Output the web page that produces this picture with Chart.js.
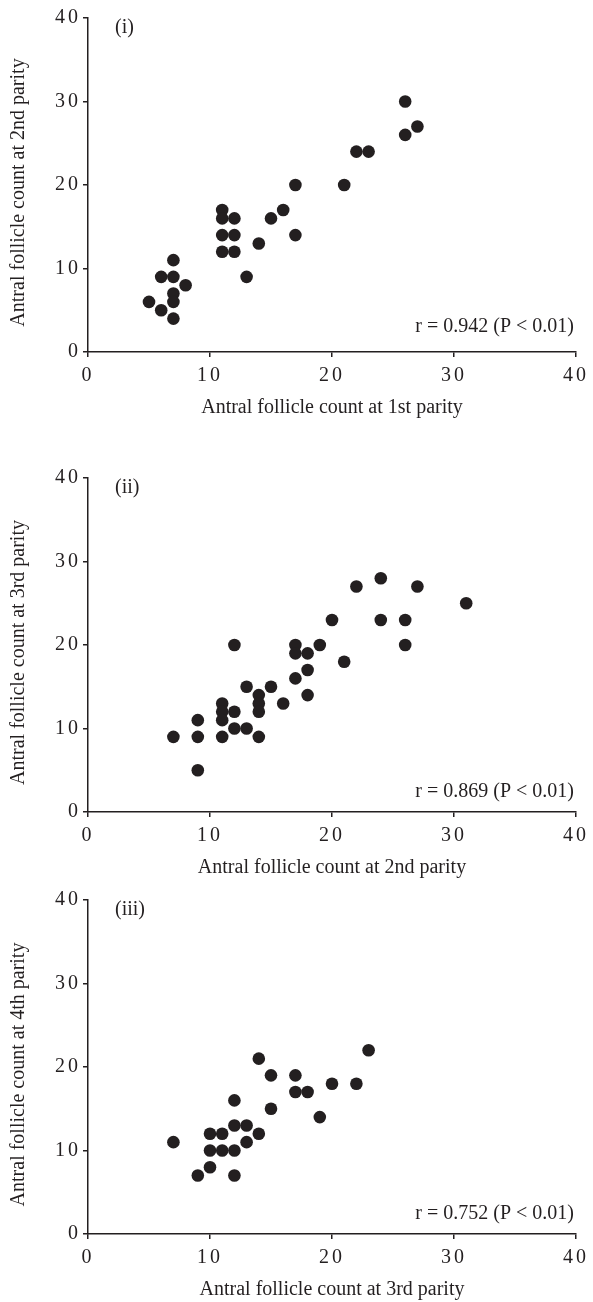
<!DOCTYPE html>
<html>
<head>
<meta charset="utf-8">
<script src="https://cdn.jsdelivr.net/npm/chart.js@4.4.1/dist/chart.umd.min.js"></script>
<style>
  html, body { margin: 0; padding: 0; background: #fff; }
  body { width: 593px; height: 1302px; position: relative; overflow: hidden; }
  canvas { position: absolute; left: 0; }
</style>
</head>
<body>
<canvas id="c1" width="593" height="420" style="top:0px"></canvas>
<canvas id="c2" width="593" height="420" style="top:460px"></canvas>
<canvas id="c3" width="593" height="420" style="top:882px"></canvas>
<script>
// (i) 1st parity vs 2nd parity
const p1x = [5, 6, 6, 7, 7, 7, 7, 7, 8, 11, 11, 11, 11, 12, 12, 12, 13, 14, 15, 16, 17, 17, 21, 22, 23, 26, 26, 27];
const p1y = [6, 5, 9, 11, 9, 7, 6, 4, 8, 17, 16, 14, 12, 16, 14, 12, 9, 13, 16, 17, 20, 14, 20, 24, 24, 30, 26, 27];

// (ii) 2nd parity vs 3rd parity
const p2x = [7, 9, 9, 9, 11, 11, 11, 11, 12, 12, 12, 13, 13, 14, 14, 14, 14, 15, 16, 17, 17, 17, 18, 18, 18, 19, 20, 21, 22, 24, 24, 26, 26, 27, 31];
const p2y = [9, 11, 9, 5, 13, 12, 11, 9, 20, 12, 10, 15, 10, 14, 13, 12, 9, 15, 13, 20, 19, 16, 19, 17, 14, 20, 23, 18, 27, 28, 23, 23, 20, 27, 25];

// (iii) 3rd parity vs 4th parity
const p3x = [7, 9, 10, 10, 10, 11, 11, 12, 12, 12, 12, 13, 13, 14, 14, 15, 15, 17, 17, 18, 19, 20, 22, 23];
const p3y = [11, 7, 12, 10, 8, 12, 10, 16, 13, 10, 7, 13, 11, 21, 12, 19, 15, 19, 17, 17, 14, 18, 18, 22];

const axisTicks = [0, 10, 20, 30, 40];
const panelTags = ['(i)', '(ii)', '(iii)'];
const panelStats = ['r = 0.942 (P < 0.01)', 'r = 0.869 (P < 0.01)', 'r = 0.752 (P < 0.01)'];
const xTitles = ['Antral follicle count at 1st parity', 'Antral follicle count at 2nd parity', 'Antral follicle count at 3rd parity'];
const yTitles = ['Antral follicle count at 2nd parity', 'Antral follicle count at 3rd parity', 'Antral follicle count at 4th parity'];

const ink = '#231f20';
const serif = '"Liberation Serif", "Times New Roman", serif';

// tick labels are drawn on a later layer (ticks.z = 1); space their digits out like the original
const panelText = {
    id: 'panelText',
    afterDatasetsDraw(chart) {
        chart.ctx.letterSpacing = '3px';
    },
    afterDraw(chart, args, opts) {
        const { ctx, chartArea } = chart;
        ctx.letterSpacing = '0px';
        ctx.save();
        ctx.fillStyle = ink;
        ctx.font = '20px ' + serif;
        ctx.textBaseline = 'middle';
        ctx.textAlign = 'left';
        ctx.fillText(opts.tag, chartArea.left + 27, chartArea.top + 10);
        ctx.textAlign = 'right';
        ctx.fillText(opts.stat, chartArea.right - 2, chartArea.bottom - opts.gap);
        ctx.restore();
    }
};

function makePanel(id, xs, ys, i, gap) {
    const pts = xs.map((x, k) => ({ x: x, y: ys[k] }));
    const tickFont = { family: serif, size: 20 };
    const titleFont = { family: serif, size: 20 };
    const axisBase = {
        type: 'linear',
        min: 0,
        max: 40,
        afterBuildTicks: (s) => { s.ticks = axisTicks.map(v => ({ value: v })); },
        grid: { drawOnChartArea: false, drawTicks: true, tickLength: 5, color: ink, lineWidth: 1.5 },
        border: { display: true, color: ink, width: 1.5 }
    };
    return new Chart(document.getElementById(id), {
        type: 'scatter',
        data: {
            datasets: [{
                data: pts,
                backgroundColor: ink,
                borderColor: ink,
                borderWidth: 0,
                pointRadius: 6.3,
                pointHoverRadius: 6.3
            }]
        },
        options: {
            responsive: false,
            animation: false,
            devicePixelRatio: 1,
            layout: { padding: { top: 18, right: 13, left: 0, bottom: 0 } },
            plugins: {
                legend: { display: false },
                tooltip: { enabled: false },
                panelText: { tag: panelTags[i], stat: panelStats[i], gap: gap }
            },
            scales: {
                x: Object.assign({}, axisBase, {
                    position: 'bottom',
                    afterFit: (s) => { s.height = 68; },
                    ticks: { color: ink, font: tickFont, padding: 7, maxRotation: 0, z: 1 },
                    title: { display: true, text: xTitles[i], color: ink, font: titleFont, padding: { top: 0, bottom: 0 } }
                }),
                y: Object.assign({}, axisBase, {
                    position: 'left',
                    afterFit: (s) => { s.width = 88; },
                    ticks: { color: ink, font: tickFont, padding: 2, z: 1 },
                    // trailing spaces push the rotated title a little below centre, as in the original
                    title: { display: true, text: yTitles[i] + '   ', color: ink, font: titleFont, padding: { top: 7, bottom: 0 } }
                })
            }
        },
        plugins: [panelText]
    });
}

makePanel('c1', p1x, p1y, 0, 25);
makePanel('c2', p2x, p2y, 1, 20);
makePanel('c3', p3x, p3y, 2, 20);
</script>
</body>
</html>
